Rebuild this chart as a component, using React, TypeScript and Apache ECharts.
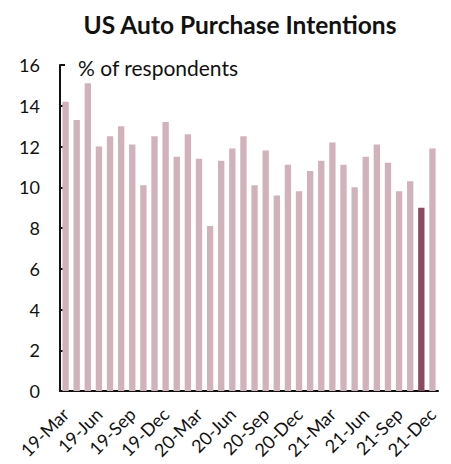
import React, { useEffect, useRef } from "react";
import * as echarts from "echarts";

const months = ["Mar", "Apr", "May", "Jun", "Jul", "Aug", "Sep", "Oct", "Nov", "Dec", "Jan", "Feb"];
const categories: string[] = [];
{
  let y = 19;
  let m = 0;
  for (let i = 0; i < 34; i++) {
    categories.push(`${y}-${months[m]}`);
    m++;
    if (months[m - 1] === "Dec") y++;
    if (m === 12) m = 0;
  }
}
const values = [
  14.2, 13.3, 15.1, 12.0, 12.5, 13.0, 12.1, 10.1, 12.5, 13.2, 11.5, 12.6,
  11.4, 8.1, 11.3, 11.9, 12.5, 10.1, 11.8, 9.6, 11.1, 9.8, 10.8, 11.3,
  12.2, 11.1, 10.0, 11.5, 12.1, 11.2, 9.8, 10.3, 9.0, 11.9,
];
const highlightIndex = 32;
const yTicks = [0, 2, 4, 6, 8, 10, 12, 14, 16];

const FONT = "Lato";

export default function App() {
  const ref = useRef<HTMLDivElement>(null);
  useEffect(() => {
    if (!ref.current) return;
    const chart = echarts.init(ref.current, null, { renderer: "svg" });
    chart.setOption({
      animation: false,
      backgroundColor: "#ffffff",
      title: {
        text: "US Auto Purchase Intentions",
        left: 235,
        textAlign: "center",
        top: 7,
        textStyle: { fontFamily: FONT, fontWeight: "bold", fontSize: 24.5, color: "#111" },
      },
      graphic: [
        {
          type: "text",
          left: 78,
          top: 57,
          style: { text: "% of respondents", fontFamily: FONT, fontSize: 21, fill: "#111" },
        },
      ],
      grid: { left: 60, right: 13, top: 65, bottom: 73, containLabel: false },
      xAxis: {
        type: "category",
        data: categories,
        boundaryGap: true,
        axisLine: { lineStyle: { color: "#111", width: 2 } },
        axisTick: { interval: 2, length: 5, lineStyle: { color: "#111", width: 2 } },
        axisLabel: {
          interval: 2,
          rotate: 45,
          fontFamily: FONT,
          fontSize: 18,
          color: "#111",
          margin: 20,
        },
      },
      yAxis: {
        type: "value",
        min: yTicks[0],
        max: yTicks[yTicks.length - 1],
        interval: 2,
        splitLine: { show: false },
        axisLine: { show: true, lineStyle: { color: "#111", width: 2 } },
        axisTick: { show: true, inside: true, length: 5, lineStyle: { color: "#111", width: 2 } },
        axisLabel: { fontFamily: FONT, fontSize: 18, color: "#111", margin: 20 },
      },
      series: [
        {
          type: "bar",
          barWidth: "57%",
          data: values.map((v, i) => ({
            value: v,
            itemStyle: { color: i === highlightIndex ? "#8c4a5f" : "#d1b2ba" },
          })),
        },
      ],
    });
    return () => chart.dispose();
  }, []);
  return (
    <div
      ref={ref}
      style={{ position: "absolute", left: 0, top: 0, width: 451, height: 464 }}
    />
  );
}
